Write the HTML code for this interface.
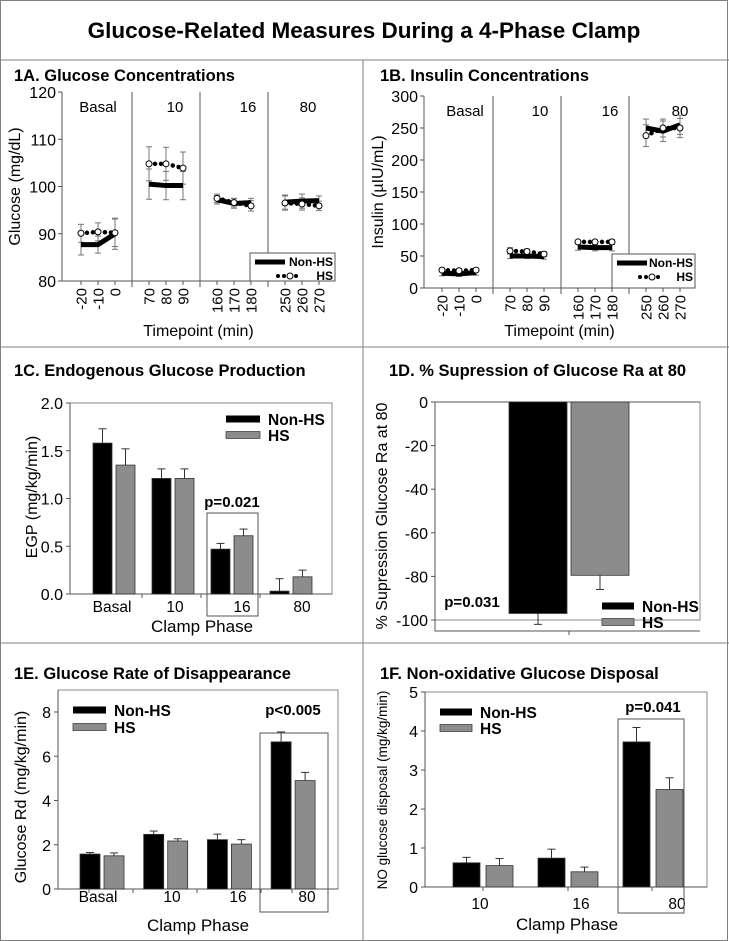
<!DOCTYPE html>
<html><head><meta charset="utf-8">
<style>
html,body{margin:0;padding:0;background:#fff;}
svg{display:block;font-family:"Liberation Sans",Arial,sans-serif;}
</style></head>
<body>
<svg id="fig" width="729" height="941" viewBox="0 0 729 941" xmlns="http://www.w3.org/2000/svg">
<rect x="0.5" y="0.5" width="727" height="940" fill="#fff" stroke="#808080"/>
<line x1="0" y1="60" x2="729" y2="60" stroke="#808080"/>
<line x1="0" y1="347" x2="729" y2="347" stroke="#808080"/>
<line x1="0" y1="643" x2="729" y2="643" stroke="#808080"/>
<line x1="363" y1="60" x2="363" y2="941" stroke="#808080"/>
<text x="364" y="38" text-anchor="middle" font-size="22.5" font-weight="bold">Glucose-Related Measures During a 4-Phase Clamp</text>
<text x="14" y="81" font-size="16.5" font-weight="bold">1A. Glucose Concentrations</text>
<text x="380" y="81" font-size="16.5" font-weight="bold">1B. Insulin Concentrations</text>
<text x="14" y="376" font-size="16.5" font-weight="bold">1C. Endogenous Glucose Production</text>
<text x="389" y="376" font-size="16.5" font-weight="bold">1D. % Supression of Glucose Ra at 80</text>
<text x="14" y="679" font-size="16.5" font-weight="bold">1E. Glucose Rate of Disappearance</text>
<text x="380" y="679" font-size="16.5" font-weight="bold">1F. Non-oxidative Glucose Disposal</text>
<g id="g1a"></g>
<g id="g1b"></g>
<g id="g1c"></g>
<g id="g1d"></g>
<g id="g1e"></g>
<g id="g1f"></g>
</svg>
<script>
// ---- data ----
const timeLabels = ["-20","-10","0","70","80","90","160","170","180","250","260","270"];
const phaseLabels = ["Basal","10","16","80"];
const glucoseNonHS = [87.7,87.7,90.0,100.5,100.2,100.2,97.2,96.4,96.6,96.7,96.9,97.0];
const glucoseNonHSErr = [2.2,1.8,3.3,3.2,3.0,3.0,0.9,1.0,0.9,1.5,1.5,1.0];
const glucoseHS = [90.1,90.4,90.2,104.8,104.8,103.9,97.5,96.6,95.9,96.5,96.3,95.9];
const glucoseHSErr = [1.9,1.9,2.9,3.6,3.5,3.4,0.9,0.9,1.1,1.5,1.3,1.0];
const glucoseTicks = [80,90,100,110,120];
const insulinNonHS = [23,22,24,50,50,49,64,63,63,250,245,255];
const insulinNonHSErr = [4,4,4,4,4,4,5,5,5,14,16,15];
const insulinHS = [28,27,28,58,57,53,72,72,72,238,250,250];
const insulinHSErr = [3,3,3,5,4,4,3,3,4,17,14,15];
const insulinTicks = [0,50,100,150,200,250,300];

const egpCats = ["Basal","10","16","80"];
const egpNonHS = [1.58,1.21,0.47,0.03];
const egpNonHSErr = [0.15,0.10,0.06,0.13];
const egpHS = [1.35,1.21,0.61,0.18];
const egpHSErr = [0.17,0.10,0.07,0.07];
const egpTicks = [0,0.5,1.0,1.5,2.0];
const egpTickLabels = ["0.0","0.5","1.0","1.5","2.0"];

const supNonHS = [-97];
const supNonHSErr = [5];
const supHS = [-79.5];
const supHSErr = [6.5];
const supTicks = [0,-20,-40,-60,-80,-100];

const rdCats = ["Basal","10","16","80"];
const rdNonHS = [1.58,2.47,2.23,6.65];
const rdNonHSErr = [0.07,0.15,0.25,0.45];
const rdHS = [1.50,2.17,2.03,4.90];
const rdHSErr = [0.13,0.10,0.20,0.37];
const rdTicks = [0,2,4,6,8];

const nogdCats = ["10","16","80"];
const nogdNonHS = [0.62,0.74,3.72];
const nogdNonHSErr = [0.14,0.23,0.37];
const nogdHS = [0.55,0.39,2.50];
const nogdHSErr = [0.18,0.12,0.30];
const nogdTicks = [0,1,2,3,4,5];

// ---- helpers ----
const NS = "http://www.w3.org/2000/svg";
function mk(parent, tag, attrs, txt){
  const e = document.createElementNS(NS, tag);
  for (const k in attrs) e.setAttribute(k, attrs[k]);
  if (txt !== undefined) e.textContent = txt;
  parent.appendChild(e);
  return e;
}
function lin(d0,d1,r0,r1){ return v => r0 + (v-d0)*(r1-r0)/(d1-d0); }

// ---- line charts (1A, 1B) ----
function lineChart(g, cfg){
  const y = lin(cfg.dmin, cfg.dmax, cfg.yBottom, cfg.yTop);
  const x = i => cfg.x0 + (i + Math.floor(i/3)) * 17;
  let e;
  e = mk(g,'line',{x1:cfg.axisX,y1:cfg.yTop,x2:cfg.axisX,y2:cfg.yBottom,stroke:'#555'});
   
  e = mk(g,'line',{x1:cfg.axisX,y1:cfg.yBottom,x2:cfg.right,y2:cfg.yBottom,stroke:'#555'});
   
  cfg.ticks.forEach(t=>{
    mk(g,'line',{x1:cfg.axisX-4,y1:y(t),x2:cfg.axisX,y2:y(t),stroke:'#555'});
    const tl = mk(g,'text',{x:cfg.axisX-6,y:y(t)+6,'text-anchor':'end','font-size':16},String(t));
     
  });
  for (let p=1;p<4;p++){
    const dx = cfg.x0 + (4*p-1)*17;
    const d = mk(g,'line',{x1:dx,y1:cfg.yTop,x2:dx,y2:cfg.yBottom+6,stroke:'#555'});
     
  }
  phaseLabels.forEach((pl,p)=>{
    const t = mk(g,'text',{x:cfg.phaseX[p],y:cfg.yTop+20,'text-anchor':'middle','font-size':15},pl);
     
  });
  timeLabels.forEach((tl,i)=>{
    mk(g,'line',{x1:x(i),y1:cfg.yBottom,x2:x(i),y2:cfg.yBottom+4,stroke:'#555'});
    const t = mk(g,'text',{x:0,y:0,'text-anchor':'end','font-size':15,transform:`translate(${x(i)+5.5},${cfg.yBottom+7}) rotate(-90)`},tl);
     
  });
  [[cfg.a,cfg.ae],[cfg.b,cfg.be]].forEach(([v,er])=>{
    v.forEach((val,i)=>{
      const xx=x(i), y1=y(val+er[i]), y2=y(val-er[i]);
      mk(g,'line',{x1:xx,y1:y1,x2:xx,y2:y2,stroke:'#777'});
      mk(g,'line',{x1:xx-3,y1:y1,x2:xx+3,y2:y1,stroke:'#777'});
      mk(g,'line',{x1:xx-3,y1:y2,x2:xx+3,y2:y2,stroke:'#777'});
    });
  });
  for (let p=0;p<4;p++){
    const ptsA=[],ptsB=[];
    for (let i=p*3;i<p*3+3;i++){ ptsA.push(x(i)+','+y(cfg.a[i])); ptsB.push(x(i)+','+y(cfg.b[i])); }
    const la = mk(g,'polyline',{points:ptsA.join(' '),fill:'none',stroke:'#000','stroke-width':5});
     
    const lb = mk(g,'polyline',{points:ptsB.join(' '),fill:'none',stroke:'#000','stroke-width':4.5,'stroke-dasharray':'0 6','stroke-linecap':'round'});
     
  }
  cfg.b.forEach((val,i)=>{
    const c = mk(g,'circle',{cx:x(i),cy:y(val),r:3,fill:'#fff',stroke:'#000','stroke-width':1});
     
  });
  const L = cfg.legend;
  const lg = mk(g,'g',{});
   
  mk(lg,'rect',{x:L.x,y:L.y,width:L.w,height:L.h,fill:'#fff',stroke:'#555'});
  mk(lg,'line',{x1:L.x+5,y1:L.y+9,x2:L.x+35,y2:L.y+9,stroke:'#000','stroke-width':5});
  mk(lg,'text',{x:L.x+L.w-2,y:L.y+13,'text-anchor':'end','font-size':12,'font-weight':'bold'},'Non-HS');
  mk(lg,'line',{x1:L.x+28,y1:L.y+23,x2:L.x+52,y2:L.y+23,stroke:'#000','stroke-width':4,'stroke-dasharray':'0 6','stroke-linecap':'round'});
  mk(lg,'circle',{cx:L.x+40,cy:L.y+23,r:3,fill:'#fff',stroke:'#000'});
  mk(lg,'text',{x:L.x+L.w-2,y:L.y+27,'text-anchor':'end','font-size':12,'font-weight':'bold'},'HS');
  const yl = mk(g,'text',{x:0,y:0,'text-anchor':'middle','font-size':16,transform:`translate(${cfg.ylabX},${(cfg.yTop+cfg.yBottom)/2}) rotate(-90)`},cfg.ylabel);
   
  const xl = mk(g,'text',{x:(cfg.axisX+cfg.right)/2,y:cfg.xlabY,'text-anchor':'middle','font-size':16},'Timepoint (min)');
   
}

lineChart(document.getElementById('g1a'),{dmin:80,dmax:120,yTop:92,yBottom:281,axisX:62,right:335,x0:81,
  ticks:glucoseTicks,a:glucoseNonHS,ae:glucoseNonHSErr,b:glucoseHS,be:glucoseHSErr,
  phaseX:[98,175,248,308],legend:{x:250,y:253,w:85,h:28},ylabel:'Glucose (mg/dL)',ylabX:20,xlabY:336});
lineChart(document.getElementById('g1b'),{dmin:0,dmax:300,yTop:96,yBottom:288,axisX:424,right:695,x0:442,
  ticks:insulinTicks,a:insulinNonHS,ae:insulinNonHSErr,b:insulinHS,be:insulinHSErr,
  phaseX:[465,540,610,680],legend:{x:612,y:254,w:83,h:34},ylabel:'Insulin (\u00b5IU/mL)',ylabX:383,xlabY:336});

// ---- bar charts ----
function barChart(g, cfg){
  const y = lin(cfg.dmin, cfg.dmax, cfg.yBottom, cfg.yTop);
  let e;
  if (cfg.frameTop !== undefined){
    e = mk(g,'rect',{x:cfg.axisX,y:cfg.frameTop,width:cfg.right-cfg.axisX,height:cfg.yBottom-cfg.frameTop,fill:'none',stroke:'#888'});
     
  }
  e = mk(g,'line',{x1:cfg.axisX,y1:cfg.axisTop,x2:cfg.axisX,y2:cfg.yBottom,stroke:'#555'});
   
  e = mk(g,'line',{x1:cfg.axisX,y1:cfg.xAxisY,x2:cfg.right,y2:cfg.xAxisY,stroke:'#555'});
   
  cfg.ticks.forEach((t,k)=>{
    mk(g,'line',{x1:cfg.axisX-4,y1:y(t),x2:cfg.axisX,y2:y(t),stroke:'#555'});
    const tl = mk(g,'text',{x:cfg.axisX-7,y:y(t)+6,'text-anchor':'end','font-size':16},cfg.tickLabels?cfg.tickLabels[k]:String(t));
     
  });
  const base = y(0);
  cfg.a.forEach((v,i)=>{
    const gx = cfg.g0 + i*cfg.step;
    [[v,cfg.ae[i],'#000','non-hs',0],[cfg.b[i],cfg.be[i],'#8c8c8c','hs',cfg.bw+cfg.gap]].forEach(([val,er,col,nm,off])=>{
      const bx = gx+off, top = Math.min(y(val),base), h = Math.abs(y(val)-base);
      const r = mk(g,'rect',{x:bx,y:top,width:cfg.bw,height:h,fill:col,stroke:'#333','stroke-width':0.8});
       
      const cx = bx+cfg.bw/2, ey = val>=0 ? y(val+er) : y(val-er);
      mk(g,'line',{x1:cx,y1:y(val),x2:cx,y2:ey,stroke:'#333'});
      mk(g,'line',{x1:cx-4,y1:ey,x2:cx+4,y2:ey,stroke:'#333'});
    });
    if (cfg.cats){
      const t = mk(g,'text',{x:cfg.labX[i],y:cfg.labY,'text-anchor':'middle','font-size':15.5},cfg.cats[i]);
       
    }
  });
  (cfg.xticks||[]).forEach(xt=>mk(g,'line',{x1:xt,y1:cfg.xAxisY,x2:xt,y2:cfg.xAxisY+4,stroke:'#555'}));
  if (cfg.pbox){
    const P=cfg.pbox;
    const pb = mk(g,'rect',{x:P.x,y:P.y,width:P.w,height:P.h,fill:'none',stroke:'#555'});
     
  }
  if (cfg.ptext){
    const pt = mk(g,'text',{x:cfg.ptext.x,y:cfg.ptext.y,'text-anchor':'middle','font-size':15,'font-weight':'bold'},cfg.ptext.t);
     
  }
  const L = cfg.legend;
  const lg = mk(g,'g',{});
   
  mk(lg,'rect',{x:L.x,y:L.y-3.5,width:L.w,height:7,fill:'#000'});
  mk(lg,'text',{x:L.x+L.w+8,y:L.y+6,'font-size':15.5,'font-weight':'bold'},'Non-HS');
  mk(lg,'rect',{x:L.x,y:L.y+L.dy-3.5,width:L.w,height:7,fill:'#8c8c8c',stroke:'#444','stroke-width':0.8});
  mk(lg,'text',{x:L.x+L.w+8,y:L.y+L.dy+6,'font-size':15.5,'font-weight':'bold'},'HS');
  const yl = mk(g,'text',{x:0,y:0,'text-anchor':'middle','font-size':cfg.ylabFont||16,transform:`translate(${cfg.ylabX},${cfg.ylabY}) rotate(-90)`},cfg.ylabel);
   
  if (cfg.xlabel){
    const xl = mk(g,'text',{x:cfg.xlabX,y:cfg.xlabY,'text-anchor':'middle','font-size':17},cfg.xlabel);
     
  }
}

barChart(document.getElementById('g1c'),{dmin:0,dmax:2,yTop:403,yBottom:594,axisX:70,axisTop:403,frameTop:403,right:332,xAxisY:594,
  ticks:egpTicks,tickLabels:egpTickLabels,a:egpNonHS,ae:egpNonHSErr,b:egpHS,be:egpHSErr,cats:egpCats,
  g0:93,step:59,bw:19,gap:4,labX:[112,175,242,302],labY:612,xticks:[142,201,260],
  pbox:{x:207,y:513,w:51,h:103},ptext:{x:232,y:507,t:'p=0.021'},
  legend:{x:226,y:419,w:34,dy:16},ylabel:'EGP (mg/kg/min)',ylabX:37,ylabY:497,xlabel:'Clamp Phase',xlabX:202,xlabY:632});

barChart(document.getElementById('g1d'),{dmin:-100,dmax:0,yTop:402,yBottom:620,axisX:435,axisTop:402,frameTop:402,right:700,xAxisY:402,
  ticks:supTicks,a:supNonHS,ae:supNonHSErr,b:supHS,be:supHSErr,
  g0:509,step:0,bw:58,gap:4,xticks:[],
  ptext:{x:472,y:607,t:'p=0.031'},
  legend:{x:602,y:606,w:32,dy:16},ylabel:'% Supression Glucose Ra at 80',ylabX:387,ylabY:516});
(function(){
  const g=document.getElementById('g1d');
  const e=mk(g,'line',{x1:435,y1:631,x2:700,y2:631,stroke:'#555'});
   
  mk(g,'line',{x1:435,y1:620,x2:435,y2:631,stroke:'#555'});
  mk(g,'line',{x1:569,y1:631,x2:569,y2:635,stroke:'#555'});
})();

barChart(document.getElementById('g1e'),{dmin:0,dmax:8,yTop:712,yBottom:889,axisX:58,axisTop:690,frameTop:690,right:338,xAxisY:889,
  ticks:rdTicks,a:rdNonHS,ae:rdNonHSErr,b:rdHS,be:rdHSErr,cats:rdCats,
  g0:80,step:63.7,bw:20,gap:4,labX:[98,172,238,307],labY:902,xticks:[89,133,197,261,292],
  pbox:{x:260,y:733,w:68,h:179},ptext:{x:293,y:715,t:'p<0.005'},
  legend:{x:73,y:710,w:33,dy:17},ylabel:'Glucose Rd (mg/kg/min)',ylabX:26,ylabY:797,xlabel:'Clamp Phase',xlabX:198,xlabY:931});

barChart(document.getElementById('g1f'),{dmin:0,dmax:5,yTop:692,yBottom:887,axisX:425,axisTop:692,frameTop:692,right:707,xAxisY:887,
  ticks:nogdTicks,a:nogdNonHS,ae:nogdNonHSErr,b:nogdHS,be:nogdHSErr,cats:nogdCats,
  g0:453,step:85,bw:27,gap:6,labX:[480,581,677],labY:909,xticks:[483,568,652],
  pbox:{x:618,y:719,w:66,h:194},ptext:{x:653,y:712,t:'p=0.041'},
  legend:{x:440,y:712,w:32,dy:16},ylabel:'NO glucose disposal (mg/kg/min)',ylabFont:13.5,ylabX:387,ylabY:790,xlabel:'Clamp Phase',xlabX:567,xlabY:930});
</script>
</body></html>
